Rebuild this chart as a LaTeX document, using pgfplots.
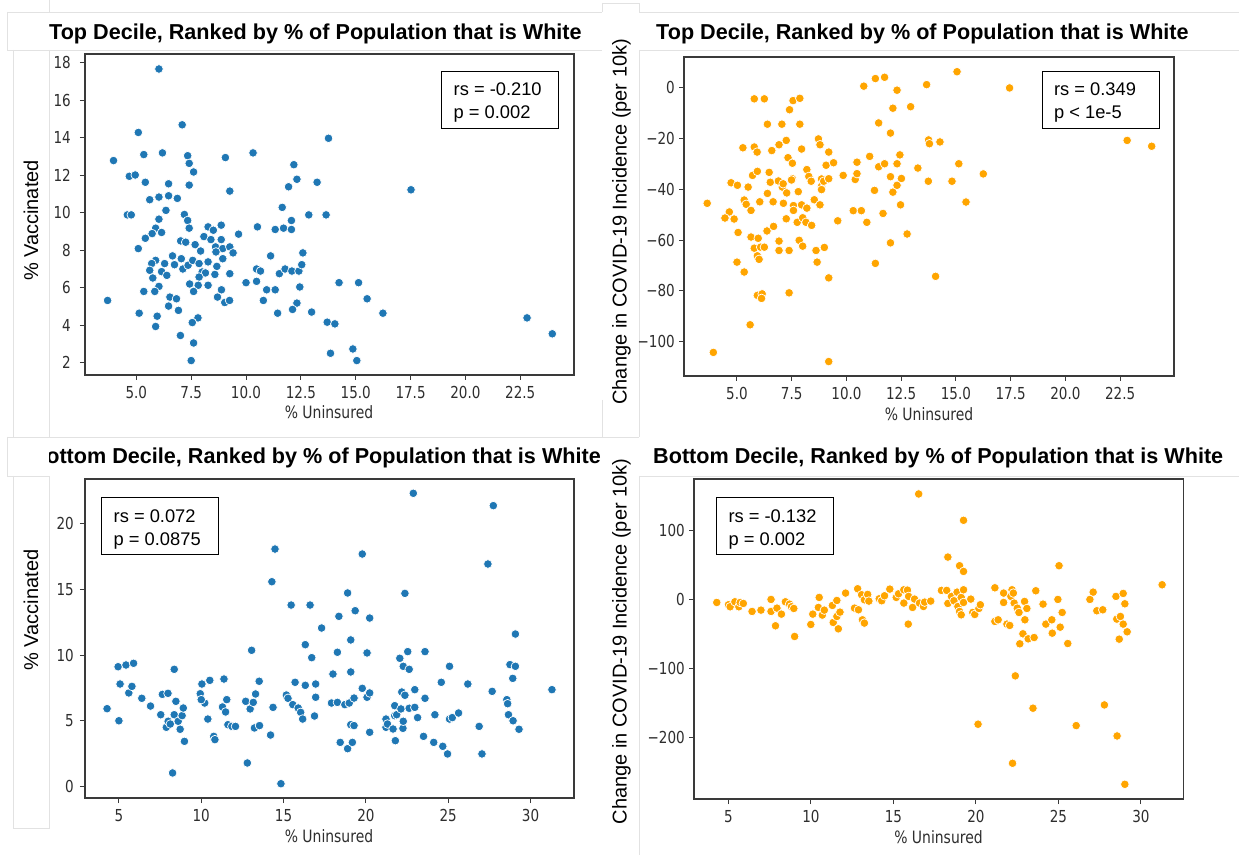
\documentclass[border=0pt]{standalone}
\usepackage{fontspec}
\setmainfont{Liberation Sans}
\newfontfamily\tickfont[FakeStretch=0.82]{DejaVu Sans}
\usepackage{pgfplots}
\usepackage{pgfplotstable}
\pgfplotsset{compat=1.18}
\definecolor{tabblue}{HTML}{1F77B4}
\definecolor{orng}{HTML}{FFA500}
\definecolor{spine}{HTML}{3A3A3A}
\definecolor{artif}{HTML}{E2E2E2}
\definecolor{tickc}{HTML}{2E2E2E}

\pgfplotstableread{
x y
6.03 17.68
7.09 14.70
5.09 14.29
13.76 13.98
3.96 12.79
5.34 13.11
6.19 13.20
7.34 13.05
7.41 12.64
7.61 12.18
9.06 12.95
10.32 13.20
12.18 12.57
4.68 11.95
4.95 12.02
5.41 11.63
6.47 11.55
7.41 11.48
12.32 11.79
13.24 11.63
11.94 11.39
9.26 11.16
17.52 11.23
5.61 10.70
6.03 10.84
6.47 10.91
6.87 10.77
6.35 10.13
4.59 9.89
4.77 9.89
7.19 9.91
7.34 9.59
7.41 9.18
6.03 9.66
11.65 10.29
12.86 9.89
13.65 9.89
10.52 9.25
11.33 9.11
11.71 9.18
12.07 9.11
12.07 9.59
8.27 9.25
8.51 9.07
8.87 9.34
9.66 8.86
8.08 8.73
5.88 9.18
6.15 8.95
5.72 8.89
5.41 8.64
5.09 8.09
7.02 8.50
7.25 8.43
7.68 8.30
7.93 7.96
8.40 8.57
8.61 8.18
8.87 8.57
8.94 8.09
8.63 7.91
9.26 8.18
9.41 7.86
12.59 7.86
11.12 7.70
5.88 7.46
5.70 7.29
6.29 7.29
6.65 7.70
6.74 7.23
7.05 7.55
7.12 7.00
7.36 7.20
7.57 7.46
7.86 7.29
8.27 7.38
8.94 7.55
8.67 7.14
5.61 6.93
5.75 6.52
6.15 6.86
6.39 6.66
6.03 6.07
8.00 6.84
8.15 6.79
7.86 6.57
8.58 6.71
9.26 6.75
10.48 7.00
10.66 6.89
11.52 6.75
11.78 7.00
12.09 6.89
12.41 6.89
12.54 7.23
10.00 6.27
10.48 6.34
10.94 5.89
11.33 5.89
12.45 6.04
14.24 6.27
15.13 6.27
15.52 5.41
7.43 6.20
7.82 6.13
8.27 6.13
7.61 5.80
5.34 5.80
5.84 5.80
3.69 5.32
6.53 5.50
6.83 5.41
8.70 5.50
8.88 5.89
9.03 5.21
9.25 5.32
10.79 5.32
12.32 5.18
6.47 5.02
6.92 4.79
5.13 4.64
5.95 4.48
11.44 4.64
12.12 4.84
12.99 4.70
16.24 4.64
22.81 4.39
7.81 4.39
7.55 4.14
13.70 4.16
14.05 4.07
5.88 3.93
7.01 3.45
23.96 3.54
7.61 3.05
13.85 2.50
14.87 2.73
7.50 2.11
15.05 2.11
}\dataA

\pgfplotstableread{
x y
3.64 -45.5
3.92 -104.3
4.65 -48.9
4.45 -51.3
4.87 -51.7
4.73 -37.4
5.02 -38.4
5.05 -57.0
5.00 -68.7
5.33 -72.6
5.27 -23.6
5.33 -44.2
5.42 -45.9
5.51 -39.1
5.64 -48.3
5.71 -34.5
5.79 -4.3
5.79 -23.3
5.92 -25.3
5.93 -32.9
5.64 -58.8
5.79 -63.2
5.97 -59.3
5.93 -66.2
6.01 -67.6
5.93 -81.8
6.15 -81.2
6.12 -83.0
5.60 -93.4
6.04 -44.9
6.25 -4.3
6.08 -62.8
6.25 -62.8
6.39 -41.6
6.39 -14.3
6.47 -33.3
6.52 -37.2
6.59 -24.7
6.65 -44.9
6.37 -56.4
6.67 -54.6
6.89 -36.7
6.92 -22.4
6.92 -60.4
6.92 -64.1
7.05 -14.3
7.07 -39.1
7.11 -37.8
7.12 -45.5
7.25 -20.7
7.25 -51.6
7.27 -41.4
7.33 -27.5
7.40 -8.6
7.38 -64.1
7.38 -80.8
7.53 -29.7
7.56 -5.0
7.53 -35.8
7.49 -36.3
7.58 -46.4
7.58 -48.3
7.80 -40.9
7.75 -53.0
7.87 -4.1
7.87 -14.3
7.95 -24.1
7.95 -46.1
7.84 -60.1
8.00 -62.4
8.00 -51.2
8.15 -53.0
8.19 -32.2
8.19 -47.4
8.28 -34.9
8.39 -36.8
8.41 -54.2
8.53 -44.1
8.61 -64.1
8.66 -68.7
8.72 -20.1
8.79 -22.4
8.79 -46.1
8.86 -35.9
8.86 -38.8
8.86 -40.1
8.96 -36.8
8.99 -62.9
9.07 -30.5
9.19 -25.3
9.19 -35.8
9.19 -74.9
9.19 -107.9
9.41 -29.5
9.60 -52.4
9.85 -34.5
10.31 -48.4
10.40 -36.1
10.48 -29.3
10.48 -33.8
10.68 -48.4
10.79 0.7
10.93 -53.0
11.06 -27.0
11.28 -40.4
11.32 3.7
11.32 -69.2
11.47 -13.8
11.47 -31.1
11.74 4.2
11.74 -29.9
11.67 -49.5
12.01 -17.8
12.01 -35.0
12.01 -61.1
12.12 -8.0
12.12 -41.1
12.31 -0.9
12.31 -29.9
12.31 -38.4
12.44 -26.4
12.51 -35.7
12.47 -46.1
12.77 -57.6
12.93 -7.4
13.26 -31.6
13.66 1.3
13.75 -20.5
13.79 -22.0
13.74 -36.8
14.27 -21.3
14.07 -74.3
14.82 -36.8
15.05 6.4
15.13 -29.9
15.46 -45.0
16.25 -33.9
17.45 0.0
22.82 -20.7
23.94 -23.0
}\dataB

\pgfplotstableread{
x y
4.28 5.92
4.95 9.12
5.00 5.00
5.07 7.80
5.43 9.25
5.60 7.12
5.79 7.62
5.89 9.38
6.39 6.71
6.92 6.12
7.54 5.46
7.64 7.01
7.98 7.09
7.88 4.50
7.99 4.96
8.12 4.75
8.26 1.02
8.36 8.92
8.36 5.46
8.46 6.48
8.60 4.96
8.72 4.35
8.84 5.39
8.91 5.97
8.98 3.43
9.94 7.06
10.04 7.80
10.21 6.35
10.00 6.61
10.40 5.13
10.52 8.08
10.76 3.81
10.83 3.56
11.29 6.05
11.38 8.18
11.48 5.67
11.55 6.61
11.62 4.70
11.86 4.57
12.08 4.57
12.80 1.78
12.70 6.48
12.97 5.90
13.06 10.37
13.16 6.40
13.23 4.45
13.30 7.04
13.54 4.63
13.52 8.01
14.21 3.91
14.29 15.60
14.36 6.02
14.48 18.09
14.84 0.20
15.17 6.96
15.27 6.71
15.46 13.82
15.56 6.23
15.70 7.93
15.89 5.97
16.04 5.64
16.16 5.13
16.32 10.80
16.32 7.70
16.61 13.82
16.71 9.81
16.88 5.36
16.95 7.80
16.95 6.79
17.31 12.07
18.00 8.56
17.91 6.35
18.27 10.22
18.27 6.40
18.36 12.96
18.44 3.35
18.72 6.23
18.89 14.74
18.89 2.87
18.99 6.35
19.08 11.16
19.08 8.72
19.08 4.70
19.18 3.35
19.28 6.73
19.28 4.63
19.35 13.39
19.78 7.47
19.78 17.71
20.07 10.17
20.07 6.79
20.23 12.83
20.23 7.12
20.23 4.12
21.22 5.13
21.22 4.50
21.31 4.75
21.65 4.37
21.75 5.39
21.75 6.15
21.79 3.48
21.87 5.46
22.06 9.76
22.13 5.90
22.18 7.19
22.25 4.42
22.27 9.15
22.27 4.96
22.37 14.71
22.37 6.94
22.54 10.27
22.63 8.92
22.63 5.95
22.88 22.34
22.97 7.37
22.97 6.02
23.14 5.24
23.50 3.81
23.59 6.71
23.59 10.27
24.19 5.46
24.12 3.35
24.58 7.93
24.67 3.05
24.96 2.47
25.08 9.15
25.08 5.13
25.25 5.24
25.63 5.59
26.19 7.80
26.88 4.57
27.05 2.47
27.41 16.95
27.67 7.24
27.74 21.40
28.56 6.61
28.61 6.30
28.66 5.46
28.75 9.28
28.92 8.23
28.94 5.00
29.08 9.15
29.08 11.61
29.30 4.35
31.30 7.37
}\dataC

\pgfplotstableread{
x y
4.29 -4.4
5.00 -7.7
5.10 -10.6
5.39 -3.4
5.63 -10.6
5.71 -4.4
5.90 -5.8
6.43 -17.4
6.97 -15.5
7.58 0.0
7.58 -17.4
7.85 -38.2
7.94 -12.6
8.21 -21.3
8.45 -3.4
8.70 -6.8
8.82 -10.6
8.96 -13.1
9.01 -53.7
9.99 -36.3
10.11 -21.3
10.45 -11.6
10.50 2.9
10.69 -22.7
10.81 -15.5
11.30 -8.7
11.35 -33.4
11.57 -1.5
11.57 -24.7
11.66 -42.6
11.76 -18.4
12.10 9.2
12.64 -12.6
12.83 15.5
12.88 -15.0
13.07 6.8
13.12 -29.5
13.24 -34.3
13.24 -0.5
13.44 7.3
13.51 -2.4
14.14 1.0
14.29 -1.9
14.46 5.3
14.78 15.0
15.17 2.9
15.31 8.2
15.63 14.0
15.63 -5.3
15.85 13.5
15.90 -35.8
15.92 4.4
16.16 -11.6
16.28 0.5
16.53 152.9
16.58 -5.3
16.82 -10.2
16.89 -3.9
17.26 -2.4
17.91 13.1
18.23 13.1
18.30 61.4
18.30 -5.8
18.52 4.4
18.67 -1.9
18.86 10.6
18.91 -10.2
19.01 48.9
19.01 -17.4
19.11 -22.3
19.11 2.9
19.25 114.7
19.25 40.6
19.25 14.0
19.25 -4.4
19.69 0.5
19.81 -18.9
19.93 -21.8
20.13 -180.9
20.18 -13.1
20.27 -7.7
21.15 16.9
21.15 -31.9
21.35 -29.5
21.68 9.2
21.68 -4.4
21.88 -35.8
22.05 -37.7
22.12 4.4
22.22 -237.5
22.19 14.0
22.27 9.2
22.32 -5.3
22.39 -110.8
22.51 -12.6
22.61 -18.9
22.66 -64.3
22.85 -49.8
22.95 -2.9
22.97 -29.5
23.09 -13.1
23.17 -57.1
23.46 -157.7
23.53 -55.2
23.63 12.6
24.07 -6.8
24.24 -35.8
24.60 -29.5
24.63 -48.9
24.97 0.0
25.04 48.9
25.11 -40.2
25.23 -18.9
25.57 -63.9
26.08 -182.9
26.91 0.0
27.11 10.6
27.33 -16.4
27.69 -15.0
27.79 -152.9
28.49 4.4
28.54 -28.5
28.56 -197.9
28.69 -57.6
28.76 -24.7
28.93 8.7
28.93 -35.8
29.03 -6.3
29.03 -268.0
29.17 -46.9
31.29 21.3
}\dataD

\pgfplotsset{
 panel/.style={
  scale only axis,
  clip=false,
  axis line style={draw=spine, line width=1.2pt},
  tick align=outside,
  tick pos=left,
  major tick length=5pt,
  tick style={draw=spine, line width=1pt},
  ticklabel style={font=\tickfont\fontsize{16.5}{18}\selectfont, text=tickc},
  yticklabel style={anchor=east, inner sep=0pt},
  xticklabel style={anchor=north, inner sep=0pt, yshift=-6.5pt},
 },
 pts/.style={only marks, mark=*, mark size=4.3pt, mark options={draw=white, line width=0.7pt, fill=#1}},
}

\newcommand{\ttl}{\fontsize{21.6}{26}\selectfont\bfseries}
\newcommand{\ylab}{\fontsize{20}{24}\selectfont}
\newcommand{\xlab}{\tickfont\fontsize{17}{20}\selectfont\color{tickc}}
\newcommand{\ann}{\fontsize{18.3}{22}\selectfont}

\begin{document}
\begin{tikzpicture}
\fill[white] (0pt,0pt) rectangle (1239pt,855pt);
\useasboundingbox (0pt,0pt) rectangle (1239pt,855pt);

% faint screenshot borders
\begin{scope}[draw=artif, line width=0.9pt]
\draw (49pt,855pt) -- (49pt,843pt);
\draw (7pt,843pt) -- (602pt,843pt);
\draw (7pt,843pt) -- (7pt,805pt);
\draw (7pt,805pt) -- (602pt,805pt);
\draw (13pt,805pt) -- (13pt,418pt);
\draw (49pt,805pt) -- (49pt,418pt);
\draw (7pt,418pt) -- (602pt,418pt);
\draw (7pt,418pt) -- (7pt,379pt);
\draw (7pt,379pt) -- (49pt,379pt);
\draw (13pt,379pt) -- (13pt,27pt) -- (49pt,27pt) -- (49pt,379pt);
\draw (602pt,852pt) -- (602pt,843pt);
\draw (602pt,852pt) -- (639pt,852pt) -- (639pt,843pt);
\draw (639pt,843pt) -- (1239pt,843pt);
\draw (639pt,805pt) -- (1239pt,805pt);
\draw (639pt,805pt) -- (639pt,418pt);
\draw (602pt,455pt) -- (602pt,418pt);
\draw (602pt,418pt) -- (639pt,418pt);
\draw (639pt,379pt) -- (1239pt,379pt);
\draw (639pt,379pt) -- (639pt,0pt);
\end{scope}

% ---------- top left ----------
\begin{axis}[panel, at={(85pt,480pt)}, anchor=south west, width=489pt, height=321pt,
  xmin=2.66, xmax=24.95, ymin=1.34, ymax=18.48,
  yticklabel style={xshift=-9pt},
  xtick={5,7.5,10,12.5,15,17.5,20,22.5},
  xticklabels={5.0,7.5,10.0,12.5,15.0,17.5,20.0,22.5},
  ytick={2,4,6,8,10,12,14,16,18},
  yticklabels={2,4,6,8,10,12,14,16,18}]
\addplot[pts=tabblue] table[x=x,y=y] {\dataA};
\end{axis}

% ---------- top right ----------
\begin{axis}[panel, at={(684pt,479pt)}, anchor=south west, width=490pt, height=319pt,
  xmin=2.58, xmax=24.96, ymin=-113.6, ymax=12.2,
  yticklabel style={xshift=-4pt},
  xtick={5,7.5,10,12.5,15,17.5,20,22.5},
  xticklabels={5.0,7.5,10.0,12.5,15.0,17.5,20.0,22.5},
  ytick={-100,-80,-60,-40,-20,0},
  yticklabels={−100,−80,−60,−40,−20,0}]
\addplot[pts=orng] table[x=x,y=y] {\dataB};
\end{axis}

% ---------- bottom left ----------
\begin{axis}[panel, at={(85pt,57pt)}, anchor=south west, width=489pt, height=319pt,
  xmin=2.94, xmax=32.64, ymin=-0.89, ymax=23.43,
  yticklabel style={xshift=-6pt},
  xtick={5,10,15,20,25,30},
  xticklabels={5,10,15,20,25,30},
  ytick={0,5,10,15,20},
  yticklabels={0,5,10,15,20}]
\addplot[pts=tabblue] table[x=x,y=y] {\dataC};
\end{axis}

% ---------- bottom right ----------
\begin{axis}[panel, at={(694pt,56pt)}, anchor=south west, width=489.4pt, height=320pt,
  xmin=2.91, xmax=32.58, ymin=-289.3, ymax=174.6,
  yticklabel style={xshift=-4pt},
  xtick={5,10,15,20,25,30},
  xticklabels={5,10,15,20,25,30},
  ytick={-200,-100,0,100},
  yticklabels={−200,−100,0,100}]
\addplot[pts=orng] table[x=x,y=y] {\dataD};
\end{axis}

% titles
\node[anchor=base west, inner sep=0pt] at (49pt,815.5pt) {\ttl Top Decile, Ranked by \% of Population that is White};
\node[anchor=base west, inner sep=0pt] at (656pt,815.5pt) {\ttl Top Decile, Ranked by \% of Population that is White};
\begin{scope}
\clip (49pt,370pt) rectangle (620pt,415pt);
\node[anchor=base east, inner sep=0pt] at (601pt,391pt) {\ttl Bottom Decile, Ranked by \% of Population that is White};
\end{scope}
\node[anchor=base west, inner sep=0pt] at (653pt,391pt) {\ttl Bottom Decile, Ranked by \% of Population that is White};

% y labels
\node[rotate=90, inner sep=0pt] at (31pt,634.5pt) {\ylab \% Vaccinated};
\node[rotate=90, inner sep=0pt] at (621.5pt,633.3pt) {\ylab Change in COVID-19 Incidence (per 10k)};
\node[rotate=90, inner sep=0pt] at (31pt,245pt) {\ylab \% Vaccinated};
\node[rotate=90, inner sep=0pt] at (621.5pt,213.5pt) {\ylab Change in COVID-19 Incidence (per 10k)};

% x labels
\node[inner sep=0pt] at (329pt,443pt) {\xlab \% Uninsured};
\node[inner sep=0pt] at (929pt,441pt) {\xlab \% Uninsured};
\node[inner sep=0pt] at (329pt,19pt) {\xlab \% Uninsured};
\node[inner sep=0pt] at (938.5pt,18pt) {\xlab \% Uninsured};

% annotation boxes
\draw[black, line width=1.4pt] (441.7pt,726.7pt) rectangle (558.3pt,783.3pt);
\node[anchor=base west, inner sep=0pt] at (453.5pt,759pt) {\ann rs = -0.210};
\node[anchor=base west, inner sep=0pt] at (453.5pt,736.7pt) {\ann p = 0.002};

\draw[black, line width=1.4pt] (1042.3pt,726.7pt) rectangle (1159.4pt,783.3pt);
\node[anchor=base west, inner sep=0pt] at (1053.9pt,759pt) {\ann rs = 0.349};
\node[anchor=base west, inner sep=0pt] at (1053.9pt,736.7pt) {\ann p < 1e-5};

\draw[black, line width=1.4pt] (101.2pt,300.7pt) rectangle (218.7pt,357.3pt);
\node[anchor=base west, inner sep=0pt] at (113.5pt,332.3pt) {\ann rs = 0.072};
\node[anchor=base west, inner sep=0pt] at (113.5pt,310pt) {\ann p = 0.0875};

\draw[black, line width=1.4pt] (716.3pt,300.7pt) rectangle (833.4pt,357.3pt);
\node[anchor=base west, inner sep=0pt] at (728.3pt,332.3pt) {\ann rs = -0.132};
\node[anchor=base west, inner sep=0pt] at (728.3pt,310pt) {\ann p = 0.002};
\end{tikzpicture}
\end{document}
